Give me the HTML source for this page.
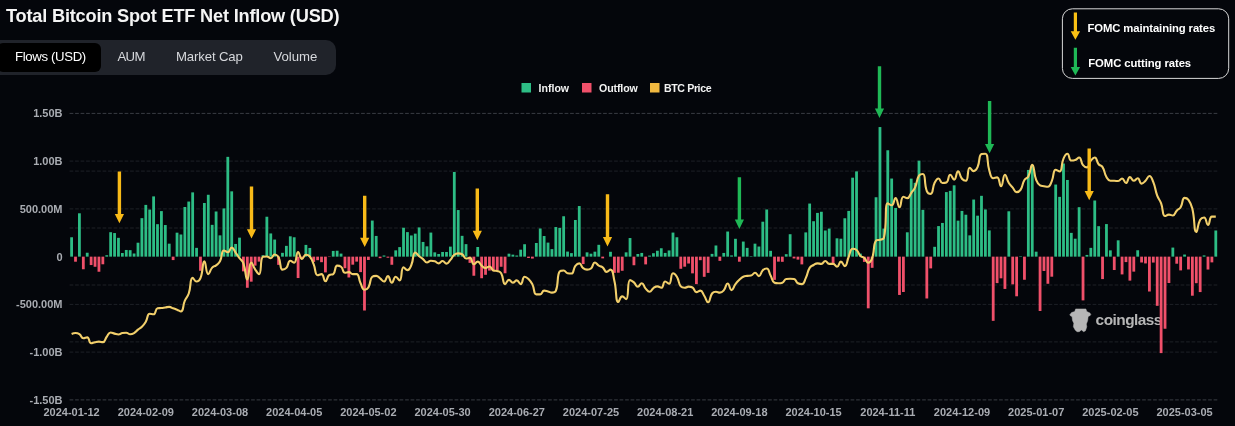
<!DOCTYPE html>
<html><head><meta charset="utf-8"><title>Total Bitcoin Spot ETF Net Inflow (USD)</title>
<style>
html,body{margin:0;padding:0;background:#04060b;}
body{width:1235px;height:426px;position:relative;overflow:hidden;font-family:"Liberation Sans",sans-serif;}
svg text{font-family:"Liberation Sans",sans-serif;}
.title,.tabs{will-change:transform;}
.title{position:absolute;left:5.6px;top:5.1px;font-size:18.2px;font-weight:700;color:#f4f4f4;letter-spacing:-0.2px;white-space:nowrap;line-height:22px;}
.tabs{position:absolute;left:-12px;top:39.6px;width:348.3px;height:35.4px;background:#20232a;border-radius:10px;}
.tab{position:absolute;top:0;height:35.4px;line-height:33.6px;font-size:13.2px;color:#d6d8dc;white-space:nowrap;}
.tab.on{left:9px;top:3px;width:104.4px;height:29px;line-height:27.6px;background:#000;border-radius:6px;color:#fff;}
.tab.on span{position:absolute;left:18px;letter-spacing:-0.35px;}
</style></head><body>
<div class="title">Total Bitcoin Spot ETF Net Inflow (USD)</div>
<div class="tabs"><div class="tab on"><span>Flows (USD)</span></div><div class="tab" style="left:129.4px;letter-spacing:-0.6px">AUM</div><div class="tab" style="left:188px;letter-spacing:-0.14px">Market Cap</div><div class="tab" style="left:285.4px">Volume</div></div>
<svg width="1235" height="426" viewBox="0 0 1235 426" style="position:absolute;left:0;top:0;will-change:transform">
<line x1="69.6" x2="1217.5" y1="113.4" y2="113.4" stroke="#3a3d44" stroke-width="1" stroke-dasharray="3.7 1.8"/>
<line x1="69.6" x2="1217.5" y1="161.1" y2="161.1" stroke="#1e2127" stroke-width="1" stroke-dasharray="3.7 1.8"/>
<line x1="69.6" x2="1217.5" y1="208.9" y2="208.9" stroke="#1e2127" stroke-width="1" stroke-dasharray="3.7 1.8"/>
<line x1="69.6" x2="1217.5" y1="304.4" y2="304.4" stroke="#1e2127" stroke-width="1" stroke-dasharray="3.7 1.8"/>
<line x1="69.6" x2="1217.5" y1="352.1" y2="352.1" stroke="#1e2127" stroke-width="1" stroke-dasharray="3.7 1.8"/>
<line x1="69.6" x2="1217.5" y1="399.9" y2="399.9" stroke="#3a3d44" stroke-width="1" stroke-dasharray="3.7 1.8"/>
<line x1="69.6" x2="1217.5" y1="228.0" y2="228.0" stroke="#1e2127" stroke-width="1" stroke-dasharray="3.7 1.8"/>
<line x1="69.6" x2="1217.5" y1="285.0" y2="285.0" stroke="#1e2127" stroke-width="1" stroke-dasharray="3.7 1.8"/>
<line x1="69.6" x2="1217.5" y1="341.9" y2="341.9" stroke="#1e2127" stroke-width="1" stroke-dasharray="3.7 1.8"/>
<line x1="69.6" x2="1217.5" y1="171.1" y2="171.1" stroke="#1e2127" stroke-width="1" stroke-dasharray="3.7 1.8"/>
<g fill="#b6b6b6"><path d="M1069.82,314.73 L1071.61,312.50 L1074.73,311.61 L1075.62,308.93 L1085.89,308.93 L1086.79,311.61 L1089.91,312.95 L1090.80,314.73 L1089.46,316.07 L1088.12,316.52 L1087.68,320.54 L1086.34,324.11 L1086.79,326.79 L1085.45,330.80 L1083.66,331.70 L1081.43,329.91 L1079.20,331.70 L1076.96,331.70 L1075.18,329.91 L1073.39,326.79 L1073.84,323.21 L1072.50,320.54 L1072.05,316.52 L1070.71,316.07Z" stroke="#b6b6b6" stroke-width="0.5" stroke-linejoin="round"/><text x="1095.6" y="325.1" font-size="15.4" font-weight="700" letter-spacing="-0.52">coinglass</text></g>
<rect x="70.20" y="237.26" width="2.8" height="19.39" fill="#2dbd85"/>
<rect x="74.11" y="256.65" width="2.8" height="5.06" fill="#f0506a"/>
<rect x="78.01" y="213.29" width="2.8" height="43.36" fill="#2dbd85"/>
<rect x="81.92" y="256.65" width="2.8" height="12.61" fill="#f0506a"/>
<rect x="85.82" y="252.73" width="2.8" height="3.92" fill="#2dbd85"/>
<rect x="89.73" y="256.65" width="2.8" height="8.40" fill="#f0506a"/>
<rect x="93.63" y="256.65" width="2.8" height="10.12" fill="#f0506a"/>
<rect x="97.54" y="256.65" width="2.8" height="15.09" fill="#f0506a"/>
<rect x="101.44" y="256.65" width="2.8" height="7.64" fill="#f0506a"/>
<rect x="105.35" y="255.22" width="2.8" height="1.43" fill="#2dbd85"/>
<rect x="109.25" y="232.20" width="2.8" height="24.45" fill="#2dbd85"/>
<rect x="113.16" y="233.06" width="2.8" height="23.59" fill="#2dbd85"/>
<rect x="117.06" y="237.84" width="2.8" height="18.81" fill="#2dbd85"/>
<rect x="120.97" y="253.02" width="2.8" height="3.63" fill="#2dbd85"/>
<rect x="124.87" y="249.96" width="2.8" height="6.69" fill="#2dbd85"/>
<rect x="128.78" y="250.16" width="2.8" height="6.49" fill="#2dbd85"/>
<rect x="132.68" y="253.50" width="2.8" height="3.15" fill="#2dbd85"/>
<rect x="136.59" y="242.71" width="2.8" height="13.94" fill="#2dbd85"/>
<rect x="140.49" y="218.16" width="2.8" height="38.49" fill="#2dbd85"/>
<rect x="144.40" y="204.89" width="2.8" height="51.76" fill="#2dbd85"/>
<rect x="148.30" y="209.57" width="2.8" height="47.08" fill="#2dbd85"/>
<rect x="152.21" y="196.39" width="2.8" height="60.26" fill="#2dbd85"/>
<rect x="156.11" y="224.18" width="2.8" height="32.47" fill="#2dbd85"/>
<rect x="160.02" y="211.10" width="2.8" height="45.55" fill="#2dbd85"/>
<rect x="163.92" y="225.04" width="2.8" height="31.61" fill="#2dbd85"/>
<rect x="167.83" y="243.66" width="2.8" height="12.99" fill="#2dbd85"/>
<rect x="171.73" y="256.65" width="2.8" height="3.44" fill="#f0506a"/>
<rect x="175.64" y="232.68" width="2.8" height="23.97" fill="#2dbd85"/>
<rect x="179.54" y="234.49" width="2.8" height="22.16" fill="#2dbd85"/>
<rect x="183.45" y="206.99" width="2.8" height="49.66" fill="#2dbd85"/>
<rect x="187.35" y="201.55" width="2.8" height="55.10" fill="#2dbd85"/>
<rect x="191.26" y="192.38" width="2.8" height="64.27" fill="#2dbd85"/>
<rect x="195.16" y="247.86" width="2.8" height="8.79" fill="#2dbd85"/>
<rect x="199.07" y="256.65" width="2.8" height="14.13" fill="#f0506a"/>
<rect x="202.97" y="202.98" width="2.8" height="53.67" fill="#2dbd85"/>
<rect x="206.88" y="194.77" width="2.8" height="61.88" fill="#2dbd85"/>
<rect x="210.78" y="224.85" width="2.8" height="31.80" fill="#2dbd85"/>
<rect x="214.69" y="211.48" width="2.8" height="45.17" fill="#2dbd85"/>
<rect x="218.59" y="235.35" width="2.8" height="21.30" fill="#2dbd85"/>
<rect x="222.50" y="208.42" width="2.8" height="48.23" fill="#2dbd85"/>
<rect x="226.40" y="156.85" width="2.8" height="99.80" fill="#2dbd85"/>
<rect x="230.31" y="191.33" width="2.8" height="65.32" fill="#2dbd85"/>
<rect x="234.21" y="243.95" width="2.8" height="12.70" fill="#2dbd85"/>
<rect x="238.12" y="237.65" width="2.8" height="19.00" fill="#2dbd85"/>
<rect x="242.02" y="256.65" width="2.8" height="14.71" fill="#f0506a"/>
<rect x="245.93" y="256.65" width="2.8" height="31.13" fill="#f0506a"/>
<rect x="249.83" y="256.65" width="2.8" height="25.02" fill="#f0506a"/>
<rect x="253.74" y="256.65" width="2.8" height="8.98" fill="#f0506a"/>
<rect x="257.64" y="256.65" width="2.8" height="4.97" fill="#f0506a"/>
<rect x="261.55" y="255.22" width="2.8" height="1.43" fill="#2dbd85"/>
<rect x="265.46" y="216.73" width="2.8" height="39.92" fill="#2dbd85"/>
<rect x="269.36" y="233.44" width="2.8" height="23.21" fill="#2dbd85"/>
<rect x="273.27" y="239.56" width="2.8" height="17.09" fill="#2dbd85"/>
<rect x="277.17" y="256.65" width="2.8" height="8.21" fill="#f0506a"/>
<rect x="281.08" y="252.83" width="2.8" height="3.82" fill="#2dbd85"/>
<rect x="284.98" y="245.86" width="2.8" height="10.79" fill="#2dbd85"/>
<rect x="288.89" y="236.31" width="2.8" height="20.34" fill="#2dbd85"/>
<rect x="292.79" y="237.26" width="2.8" height="19.39" fill="#2dbd85"/>
<rect x="296.70" y="256.65" width="2.8" height="21.39" fill="#f0506a"/>
<rect x="300.60" y="256.65" width="2.8" height="1.81" fill="#f0506a"/>
<rect x="304.51" y="244.90" width="2.8" height="11.75" fill="#2dbd85"/>
<rect x="308.41" y="247.96" width="2.8" height="8.69" fill="#2dbd85"/>
<rect x="312.32" y="256.65" width="2.8" height="5.25" fill="#f0506a"/>
<rect x="316.22" y="256.65" width="2.8" height="3.53" fill="#f0506a"/>
<rect x="320.13" y="256.65" width="2.8" height="5.54" fill="#f0506a"/>
<rect x="324.03" y="256.65" width="2.8" height="15.76" fill="#f0506a"/>
<rect x="327.94" y="256.65" width="2.8" height="0.38" fill="#f0506a"/>
<rect x="331.84" y="250.92" width="2.8" height="5.73" fill="#2dbd85"/>
<rect x="335.75" y="250.73" width="2.8" height="5.92" fill="#2dbd85"/>
<rect x="339.65" y="253.59" width="2.8" height="3.06" fill="#2dbd85"/>
<rect x="343.56" y="256.65" width="2.8" height="11.56" fill="#f0506a"/>
<rect x="347.46" y="256.65" width="2.8" height="20.82" fill="#f0506a"/>
<rect x="351.37" y="256.65" width="2.8" height="8.02" fill="#f0506a"/>
<rect x="355.27" y="256.65" width="2.8" height="4.97" fill="#f0506a"/>
<rect x="359.18" y="256.65" width="2.8" height="15.47" fill="#f0506a"/>
<rect x="363.08" y="256.65" width="2.8" height="53.86" fill="#f0506a"/>
<rect x="366.99" y="256.65" width="2.8" height="3.34" fill="#f0506a"/>
<rect x="370.89" y="220.55" width="2.8" height="36.10" fill="#2dbd85"/>
<rect x="374.80" y="235.93" width="2.8" height="20.72" fill="#2dbd85"/>
<rect x="378.70" y="256.65" width="2.8" height="1.53" fill="#f0506a"/>
<rect x="382.61" y="255.50" width="2.8" height="1.15" fill="#2dbd85"/>
<rect x="386.51" y="256.65" width="2.8" height="1.05" fill="#f0506a"/>
<rect x="390.42" y="256.65" width="2.8" height="8.12" fill="#f0506a"/>
<rect x="394.32" y="250.35" width="2.8" height="6.30" fill="#2dbd85"/>
<rect x="398.23" y="247.10" width="2.8" height="9.55" fill="#2dbd85"/>
<rect x="402.13" y="227.71" width="2.8" height="28.94" fill="#2dbd85"/>
<rect x="406.04" y="232.11" width="2.8" height="24.54" fill="#2dbd85"/>
<rect x="409.94" y="235.45" width="2.8" height="21.20" fill="#2dbd85"/>
<rect x="413.85" y="233.63" width="2.8" height="23.02" fill="#2dbd85"/>
<rect x="417.75" y="227.43" width="2.8" height="29.22" fill="#2dbd85"/>
<rect x="421.66" y="241.94" width="2.8" height="14.71" fill="#2dbd85"/>
<rect x="425.56" y="246.34" width="2.8" height="10.31" fill="#2dbd85"/>
<rect x="429.47" y="232.58" width="2.8" height="24.07" fill="#2dbd85"/>
<rect x="433.37" y="252.35" width="2.8" height="4.30" fill="#2dbd85"/>
<rect x="437.28" y="253.98" width="2.8" height="2.67" fill="#2dbd85"/>
<rect x="441.18" y="251.97" width="2.8" height="4.68" fill="#2dbd85"/>
<rect x="445.09" y="251.97" width="2.8" height="4.68" fill="#2dbd85"/>
<rect x="448.99" y="246.62" width="2.8" height="10.03" fill="#2dbd85"/>
<rect x="452.90" y="171.94" width="2.8" height="84.71" fill="#2dbd85"/>
<rect x="456.80" y="210.05" width="2.8" height="46.60" fill="#2dbd85"/>
<rect x="460.71" y="235.83" width="2.8" height="20.82" fill="#2dbd85"/>
<rect x="464.62" y="244.14" width="2.8" height="12.51" fill="#2dbd85"/>
<rect x="468.52" y="256.65" width="2.8" height="6.21" fill="#f0506a"/>
<rect x="472.43" y="256.65" width="2.8" height="19.10" fill="#f0506a"/>
<rect x="476.33" y="247.00" width="2.8" height="9.65" fill="#2dbd85"/>
<rect x="480.24" y="256.65" width="2.8" height="21.58" fill="#f0506a"/>
<rect x="484.14" y="256.65" width="2.8" height="18.14" fill="#f0506a"/>
<rect x="488.05" y="256.65" width="2.8" height="13.94" fill="#f0506a"/>
<rect x="491.95" y="256.65" width="2.8" height="14.52" fill="#f0506a"/>
<rect x="495.86" y="256.65" width="2.8" height="13.37" fill="#f0506a"/>
<rect x="499.76" y="256.65" width="2.8" height="10.12" fill="#f0506a"/>
<rect x="503.67" y="256.65" width="2.8" height="16.62" fill="#f0506a"/>
<rect x="507.57" y="253.69" width="2.8" height="2.96" fill="#2dbd85"/>
<rect x="511.48" y="254.64" width="2.8" height="2.01" fill="#2dbd85"/>
<rect x="515.38" y="255.50" width="2.8" height="1.15" fill="#2dbd85"/>
<rect x="519.29" y="249.68" width="2.8" height="6.97" fill="#2dbd85"/>
<rect x="523.19" y="244.23" width="2.8" height="12.42" fill="#2dbd85"/>
<rect x="527.10" y="256.65" width="2.8" height="1.34" fill="#f0506a"/>
<rect x="531.00" y="256.65" width="2.8" height="1.91" fill="#f0506a"/>
<rect x="534.91" y="242.99" width="2.8" height="13.66" fill="#2dbd85"/>
<rect x="538.81" y="228.48" width="2.8" height="28.17" fill="#2dbd85"/>
<rect x="542.72" y="236.02" width="2.8" height="20.63" fill="#2dbd85"/>
<rect x="546.62" y="242.61" width="2.8" height="14.04" fill="#2dbd85"/>
<rect x="550.53" y="249.11" width="2.8" height="7.54" fill="#2dbd85"/>
<rect x="554.43" y="227.04" width="2.8" height="29.61" fill="#2dbd85"/>
<rect x="558.34" y="227.90" width="2.8" height="28.75" fill="#2dbd85"/>
<rect x="562.24" y="216.25" width="2.8" height="40.40" fill="#2dbd85"/>
<rect x="566.15" y="251.59" width="2.8" height="5.06" fill="#2dbd85"/>
<rect x="570.05" y="253.12" width="2.8" height="3.53" fill="#2dbd85"/>
<rect x="573.96" y="219.98" width="2.8" height="36.67" fill="#2dbd85"/>
<rect x="577.86" y="206.03" width="2.8" height="50.62" fill="#2dbd85"/>
<rect x="581.77" y="256.65" width="2.8" height="7.45" fill="#f0506a"/>
<rect x="585.67" y="252.35" width="2.8" height="4.30" fill="#2dbd85"/>
<rect x="589.58" y="253.69" width="2.8" height="2.96" fill="#2dbd85"/>
<rect x="593.48" y="251.68" width="2.8" height="4.97" fill="#2dbd85"/>
<rect x="597.39" y="244.81" width="2.8" height="11.84" fill="#2dbd85"/>
<rect x="601.29" y="256.65" width="2.8" height="1.72" fill="#f0506a"/>
<rect x="609.10" y="251.78" width="2.8" height="4.87" fill="#2dbd85"/>
<rect x="613.01" y="256.65" width="2.8" height="16.23" fill="#f0506a"/>
<rect x="616.91" y="256.65" width="2.8" height="16.04" fill="#f0506a"/>
<rect x="620.82" y="256.65" width="2.8" height="14.13" fill="#f0506a"/>
<rect x="624.72" y="252.35" width="2.8" height="4.30" fill="#2dbd85"/>
<rect x="628.63" y="238.03" width="2.8" height="18.62" fill="#2dbd85"/>
<rect x="632.53" y="256.65" width="2.8" height="8.60" fill="#f0506a"/>
<rect x="636.44" y="253.98" width="2.8" height="2.67" fill="#2dbd85"/>
<rect x="640.34" y="252.93" width="2.8" height="3.72" fill="#2dbd85"/>
<rect x="644.25" y="256.65" width="2.8" height="7.74" fill="#f0506a"/>
<rect x="648.15" y="255.60" width="2.8" height="1.05" fill="#2dbd85"/>
<rect x="652.06" y="253.21" width="2.8" height="3.44" fill="#2dbd85"/>
<rect x="655.97" y="250.73" width="2.8" height="5.92" fill="#2dbd85"/>
<rect x="659.87" y="248.25" width="2.8" height="8.40" fill="#2dbd85"/>
<rect x="663.78" y="252.93" width="2.8" height="3.72" fill="#2dbd85"/>
<rect x="667.68" y="250.44" width="2.8" height="6.21" fill="#2dbd85"/>
<rect x="671.59" y="232.58" width="2.8" height="24.07" fill="#2dbd85"/>
<rect x="675.49" y="237.26" width="2.8" height="19.39" fill="#2dbd85"/>
<rect x="679.40" y="256.65" width="2.8" height="12.13" fill="#f0506a"/>
<rect x="683.30" y="256.65" width="2.8" height="10.03" fill="#f0506a"/>
<rect x="687.21" y="256.65" width="2.8" height="6.88" fill="#f0506a"/>
<rect x="691.11" y="256.65" width="2.8" height="16.71" fill="#f0506a"/>
<rect x="695.02" y="256.65" width="2.8" height="27.50" fill="#f0506a"/>
<rect x="698.92" y="256.65" width="2.8" height="3.53" fill="#f0506a"/>
<rect x="702.83" y="256.65" width="2.8" height="20.15" fill="#f0506a"/>
<rect x="706.73" y="256.65" width="2.8" height="16.23" fill="#f0506a"/>
<rect x="710.64" y="253.88" width="2.8" height="2.77" fill="#2dbd85"/>
<rect x="714.54" y="245.48" width="2.8" height="11.17" fill="#2dbd85"/>
<rect x="718.45" y="256.65" width="2.8" height="4.20" fill="#f0506a"/>
<rect x="722.35" y="252.93" width="2.8" height="3.72" fill="#2dbd85"/>
<rect x="726.26" y="231.53" width="2.8" height="25.12" fill="#2dbd85"/>
<rect x="730.16" y="255.41" width="2.8" height="1.24" fill="#2dbd85"/>
<rect x="734.07" y="238.79" width="2.8" height="17.86" fill="#2dbd85"/>
<rect x="737.97" y="256.65" width="2.8" height="5.06" fill="#f0506a"/>
<rect x="741.88" y="241.56" width="2.8" height="15.09" fill="#2dbd85"/>
<rect x="745.78" y="247.86" width="2.8" height="8.79" fill="#2dbd85"/>
<rect x="749.69" y="256.17" width="2.8" height="0.48" fill="#2dbd85"/>
<rect x="753.59" y="243.66" width="2.8" height="12.99" fill="#2dbd85"/>
<rect x="757.50" y="246.53" width="2.8" height="10.12" fill="#2dbd85"/>
<rect x="761.40" y="221.70" width="2.8" height="34.95" fill="#2dbd85"/>
<rect x="765.31" y="209.47" width="2.8" height="47.18" fill="#2dbd85"/>
<rect x="769.21" y="250.82" width="2.8" height="5.83" fill="#2dbd85"/>
<rect x="773.12" y="256.65" width="2.8" height="23.21" fill="#f0506a"/>
<rect x="777.02" y="256.65" width="2.8" height="4.97" fill="#f0506a"/>
<rect x="780.93" y="256.65" width="2.8" height="5.16" fill="#f0506a"/>
<rect x="784.83" y="254.17" width="2.8" height="2.48" fill="#2dbd85"/>
<rect x="788.74" y="234.21" width="2.8" height="22.44" fill="#2dbd85"/>
<rect x="792.64" y="256.65" width="2.8" height="1.81" fill="#f0506a"/>
<rect x="796.55" y="256.65" width="2.8" height="2.96" fill="#f0506a"/>
<rect x="800.45" y="256.65" width="2.8" height="7.74" fill="#f0506a"/>
<rect x="804.36" y="232.39" width="2.8" height="24.26" fill="#2dbd85"/>
<rect x="808.26" y="203.55" width="2.8" height="53.10" fill="#2dbd85"/>
<rect x="812.17" y="221.22" width="2.8" height="35.43" fill="#2dbd85"/>
<rect x="816.07" y="212.91" width="2.8" height="43.74" fill="#2dbd85"/>
<rect x="819.98" y="211.76" width="2.8" height="44.88" fill="#2dbd85"/>
<rect x="823.88" y="230.48" width="2.8" height="26.17" fill="#2dbd85"/>
<rect x="827.79" y="228.57" width="2.8" height="28.08" fill="#2dbd85"/>
<rect x="831.69" y="256.65" width="2.8" height="7.54" fill="#f0506a"/>
<rect x="835.60" y="238.31" width="2.8" height="18.34" fill="#2dbd85"/>
<rect x="839.50" y="238.70" width="2.8" height="17.95" fill="#2dbd85"/>
<rect x="843.41" y="218.26" width="2.8" height="38.39" fill="#2dbd85"/>
<rect x="847.31" y="210.91" width="2.8" height="45.74" fill="#2dbd85"/>
<rect x="851.22" y="177.67" width="2.8" height="78.98" fill="#2dbd85"/>
<rect x="855.13" y="171.37" width="2.8" height="85.28" fill="#2dbd85"/>
<rect x="859.03" y="253.59" width="2.8" height="3.06" fill="#2dbd85"/>
<rect x="862.94" y="256.65" width="2.8" height="5.25" fill="#f0506a"/>
<rect x="866.84" y="256.65" width="2.8" height="51.67" fill="#f0506a"/>
<rect x="870.75" y="256.65" width="2.8" height="11.17" fill="#f0506a"/>
<rect x="874.65" y="197.25" width="2.8" height="59.40" fill="#2dbd85"/>
<rect x="878.56" y="127.06" width="2.8" height="129.59" fill="#2dbd85"/>
<rect x="882.46" y="228.57" width="2.8" height="28.08" fill="#2dbd85"/>
<rect x="886.37" y="150.26" width="2.8" height="106.39" fill="#2dbd85"/>
<rect x="890.27" y="178.53" width="2.8" height="78.12" fill="#2dbd85"/>
<rect x="894.18" y="207.94" width="2.8" height="48.70" fill="#2dbd85"/>
<rect x="898.08" y="256.65" width="2.8" height="38.30" fill="#f0506a"/>
<rect x="901.99" y="256.65" width="2.8" height="35.34" fill="#f0506a"/>
<rect x="905.89" y="232.30" width="2.8" height="24.35" fill="#2dbd85"/>
<rect x="909.80" y="178.63" width="2.8" height="78.02" fill="#2dbd85"/>
<rect x="913.70" y="182.83" width="2.8" height="73.82" fill="#2dbd85"/>
<rect x="917.61" y="160.67" width="2.8" height="95.98" fill="#2dbd85"/>
<rect x="921.51" y="209.85" width="2.8" height="46.80" fill="#2dbd85"/>
<rect x="925.42" y="256.65" width="2.8" height="41.83" fill="#f0506a"/>
<rect x="929.32" y="256.65" width="2.8" height="11.75" fill="#f0506a"/>
<rect x="933.23" y="246.81" width="2.8" height="9.84" fill="#2dbd85"/>
<rect x="937.13" y="226.09" width="2.8" height="30.56" fill="#2dbd85"/>
<rect x="941.04" y="222.94" width="2.8" height="33.71" fill="#2dbd85"/>
<rect x="944.94" y="192.09" width="2.8" height="64.56" fill="#2dbd85"/>
<rect x="948.85" y="190.85" width="2.8" height="65.80" fill="#2dbd85"/>
<rect x="952.75" y="185.31" width="2.8" height="71.34" fill="#2dbd85"/>
<rect x="956.66" y="220.65" width="2.8" height="36.00" fill="#2dbd85"/>
<rect x="960.56" y="210.91" width="2.8" height="45.74" fill="#2dbd85"/>
<rect x="964.47" y="214.73" width="2.8" height="41.92" fill="#2dbd85"/>
<rect x="968.37" y="235.35" width="2.8" height="21.30" fill="#2dbd85"/>
<rect x="972.28" y="199.54" width="2.8" height="57.11" fill="#2dbd85"/>
<rect x="976.18" y="215.68" width="2.8" height="40.97" fill="#2dbd85"/>
<rect x="980.09" y="195.82" width="2.8" height="60.83" fill="#2dbd85"/>
<rect x="983.99" y="209.47" width="2.8" height="47.18" fill="#2dbd85"/>
<rect x="987.90" y="230.39" width="2.8" height="26.26" fill="#2dbd85"/>
<rect x="991.80" y="256.65" width="2.8" height="64.18" fill="#f0506a"/>
<rect x="995.71" y="256.65" width="2.8" height="26.45" fill="#f0506a"/>
<rect x="999.61" y="256.65" width="2.8" height="21.68" fill="#f0506a"/>
<rect x="1003.52" y="256.65" width="2.8" height="32.28" fill="#f0506a"/>
<rect x="1007.42" y="211.29" width="2.8" height="45.36" fill="#2dbd85"/>
<rect x="1011.33" y="256.65" width="2.8" height="27.70" fill="#f0506a"/>
<rect x="1015.23" y="256.65" width="2.8" height="39.63" fill="#f0506a"/>
<rect x="1019.14" y="256.17" width="2.8" height="0.48" fill="#2dbd85"/>
<rect x="1023.04" y="256.65" width="2.8" height="23.11" fill="#f0506a"/>
<rect x="1026.95" y="169.94" width="2.8" height="86.71" fill="#2dbd85"/>
<rect x="1030.85" y="164.97" width="2.8" height="91.68" fill="#2dbd85"/>
<rect x="1034.76" y="251.68" width="2.8" height="4.97" fill="#2dbd85"/>
<rect x="1038.66" y="256.65" width="2.8" height="54.34" fill="#f0506a"/>
<rect x="1042.57" y="256.65" width="2.8" height="14.33" fill="#f0506a"/>
<rect x="1046.47" y="256.65" width="2.8" height="27.12" fill="#f0506a"/>
<rect x="1050.38" y="256.65" width="2.8" height="20.05" fill="#f0506a"/>
<rect x="1054.29" y="184.55" width="2.8" height="72.10" fill="#2dbd85"/>
<rect x="1058.19" y="196.87" width="2.8" height="59.78" fill="#2dbd85"/>
<rect x="1062.10" y="163.54" width="2.8" height="93.11" fill="#2dbd85"/>
<rect x="1066.00" y="179.96" width="2.8" height="76.69" fill="#2dbd85"/>
<rect x="1069.91" y="232.87" width="2.8" height="23.78" fill="#2dbd85"/>
<rect x="1073.81" y="238.70" width="2.8" height="17.95" fill="#2dbd85"/>
<rect x="1077.72" y="207.18" width="2.8" height="49.47" fill="#2dbd85"/>
<rect x="1081.62" y="256.65" width="2.8" height="43.74" fill="#f0506a"/>
<rect x="1085.53" y="254.93" width="2.8" height="1.72" fill="#2dbd85"/>
<rect x="1089.43" y="247.86" width="2.8" height="8.79" fill="#2dbd85"/>
<rect x="1093.34" y="200.50" width="2.8" height="56.15" fill="#2dbd85"/>
<rect x="1097.24" y="226.19" width="2.8" height="30.46" fill="#2dbd85"/>
<rect x="1101.15" y="256.65" width="2.8" height="22.44" fill="#f0506a"/>
<rect x="1105.05" y="224.08" width="2.8" height="32.57" fill="#2dbd85"/>
<rect x="1108.96" y="250.35" width="2.8" height="6.30" fill="#2dbd85"/>
<rect x="1112.86" y="256.65" width="2.8" height="13.37" fill="#f0506a"/>
<rect x="1116.77" y="240.32" width="2.8" height="16.33" fill="#2dbd85"/>
<rect x="1120.67" y="256.65" width="2.8" height="17.76" fill="#f0506a"/>
<rect x="1124.58" y="256.65" width="2.8" height="5.44" fill="#f0506a"/>
<rect x="1128.48" y="256.65" width="2.8" height="23.97" fill="#f0506a"/>
<rect x="1132.39" y="256.65" width="2.8" height="14.99" fill="#f0506a"/>
<rect x="1136.29" y="250.25" width="2.8" height="6.40" fill="#2dbd85"/>
<rect x="1140.20" y="256.65" width="2.8" height="5.83" fill="#f0506a"/>
<rect x="1144.10" y="256.65" width="2.8" height="6.78" fill="#f0506a"/>
<rect x="1148.01" y="256.65" width="2.8" height="34.86" fill="#f0506a"/>
<rect x="1151.91" y="256.65" width="2.8" height="5.92" fill="#f0506a"/>
<rect x="1155.82" y="256.65" width="2.8" height="49.18" fill="#f0506a"/>
<rect x="1159.72" y="256.65" width="2.8" height="96.45" fill="#f0506a"/>
<rect x="1163.63" y="256.65" width="2.8" height="72.10" fill="#f0506a"/>
<rect x="1167.53" y="256.65" width="2.8" height="26.36" fill="#f0506a"/>
<rect x="1171.44" y="247.58" width="2.8" height="9.07" fill="#2dbd85"/>
<rect x="1175.34" y="256.65" width="2.8" height="7.07" fill="#f0506a"/>
<rect x="1179.25" y="256.65" width="2.8" height="13.75" fill="#f0506a"/>
<rect x="1183.15" y="254.55" width="2.8" height="2.10" fill="#2dbd85"/>
<rect x="1187.06" y="256.65" width="2.8" height="12.80" fill="#f0506a"/>
<rect x="1190.96" y="256.65" width="2.8" height="39.06" fill="#f0506a"/>
<rect x="1194.87" y="256.65" width="2.8" height="26.55" fill="#f0506a"/>
<rect x="1198.77" y="256.65" width="2.8" height="35.43" fill="#f0506a"/>
<rect x="1202.68" y="255.41" width="2.8" height="1.24" fill="#2dbd85"/>
<rect x="1206.58" y="256.65" width="2.8" height="12.89" fill="#f0506a"/>
<rect x="1210.49" y="256.65" width="2.8" height="5.73" fill="#f0506a"/>
<rect x="1214.39" y="230.48" width="2.8" height="26.17" fill="#2dbd85"/>
<path d="M71.60,333.92C71.60,333.92 73.57,333.07 75.51,333.07C77.47,333.07 77.76,333.12 79.41,334.20C81.67,335.69 81.04,338.19 83.32,338.19C84.95,338.19 85.82,337.34 87.22,337.34C89.72,337.34 88.64,343.31 91.13,343.31C92.54,343.31 93.05,342.61 95.03,342.17C96.95,341.75 96.98,341.61 98.94,341.61C100.89,341.61 101.39,342.17 102.84,342.17C105.29,342.17 104.65,339.36 106.75,336.77C108.56,334.52 108.36,332.50 110.65,332.50C112.26,332.50 112.59,333.13 114.56,333.64C116.49,334.13 116.55,334.49 118.46,334.49C120.45,334.49 120.36,333.37 122.37,333.07C124.26,332.78 124.38,332.78 126.27,332.78C128.28,332.78 128.20,334.20 130.18,334.20C132.11,334.20 132.37,334.07 134.08,333.07C136.27,331.79 135.96,331.27 137.99,329.65C139.87,328.14 140.22,328.51 141.89,326.80C144.12,324.53 144.15,324.43 145.80,321.68C148.06,317.89 147.00,313.71 149.70,313.71C150.90,313.71 152.22,314.28 153.61,314.28C156.12,314.28 154.99,308.82 157.51,308.30C158.90,308.02 159.47,308.23 161.42,308.02C163.38,307.80 163.37,307.73 165.32,307.45C167.27,307.16 167.33,306.88 169.23,306.88C171.23,306.88 171.18,307.59 173.13,308.30C175.09,309.01 175.11,308.95 177.04,309.72C179.01,310.52 179.89,311.43 180.94,311.43C183.79,311.43 182.56,305.87 184.85,300.62C186.46,296.91 187.45,297.31 188.75,293.50C191.35,285.92 189.73,277.84 192.66,277.84C193.63,277.84 194.58,281.54 196.56,281.54C198.48,281.54 199.57,280.47 200.47,278.13C203.47,270.36 202.18,261.33 204.37,261.33C206.08,261.33 205.79,274.14 208.28,274.14C209.70,274.14 209.73,270.37 212.18,267.60C213.64,265.95 214.34,266.72 216.09,265.32C218.25,263.59 218.72,263.75 219.99,261.33C222.62,256.35 221.05,250.52 223.90,250.52C224.95,250.52 226.18,252.23 227.80,252.23C230.09,252.23 229.79,247.67 231.71,247.67C233.70,247.67 233.76,250.01 235.61,252.51C237.67,255.28 237.50,255.41 239.52,258.20C241.40,260.81 242.34,260.35 243.42,263.33C246.24,271.03 245.42,279.55 247.33,279.55C249.33,279.55 248.54,262.47 251.23,262.47C252.44,262.47 252.96,266.04 255.14,269.30C256.86,271.88 258.03,274.14 259.04,274.14C261.94,274.14 259.75,258.07 262.95,256.78C263.65,256.50 264.99,256.50 266.86,256.50C268.89,256.50 269.03,258.20 270.76,258.20C272.94,258.20 272.61,254.50 274.67,254.50C276.51,254.50 277.50,255.29 278.57,257.35C281.41,262.83 279.54,269.59 282.48,269.59C283.45,269.59 285.04,269.40 286.38,267.88C288.94,264.99 287.75,260.76 290.29,260.76C291.66,260.76 293.11,262.76 294.19,262.76C297.02,262.76 295.81,251.94 298.10,251.94C299.71,251.94 299.72,259.06 302.00,259.06C303.63,259.06 303.66,254.79 305.91,254.79C307.56,254.79 308.54,254.93 309.81,256.50C312.45,259.76 312.02,260.37 313.72,264.47C315.92,269.77 314.74,275.28 317.62,275.28C318.64,275.28 320.22,274.14 321.53,274.14C324.13,274.14 323.39,281.26 325.43,281.26C327.29,281.26 326.80,276.57 329.34,275.00C330.71,274.14 332.08,275.00 333.24,274.14C335.98,272.14 334.42,265.60 337.15,265.60C338.33,265.60 339.63,265.60 341.05,266.74C343.54,268.74 342.44,272.72 344.96,272.72C346.35,272.72 347.01,272.15 348.86,272.15C350.92,272.15 350.70,274.14 352.77,274.14C354.61,274.14 355.57,274.14 356.67,274.14C359.47,274.14 358.37,278.83 360.58,283.25C362.28,286.66 362.03,289.80 364.48,289.80C365.94,289.80 367.29,289.37 368.39,287.52C371.19,282.82 369.39,279.16 372.29,276.71C373.30,275.85 374.40,275.85 376.20,275.85C378.30,275.85 378.22,277.04 380.10,278.41C382.12,279.89 382.33,281.54 384.01,281.54C386.24,281.54 386.09,276.14 387.91,276.14C390.00,276.14 389.80,282.68 391.82,282.68C393.71,282.68 393.50,276.71 395.72,276.71C397.40,276.71 398.53,280.41 399.63,280.41C402.43,280.41 400.65,267.31 403.53,267.31C404.55,267.31 405.76,270.16 407.44,270.16C409.67,270.16 410.06,267.94 411.34,265.03C413.96,259.12 412.48,252.51 415.25,252.51C416.38,252.51 417.10,254.49 419.15,256.21C421.00,257.76 421.18,257.55 423.06,259.06C425.08,260.68 424.82,262.47 426.96,262.47C428.73,262.47 428.84,260.76 430.87,260.76C432.75,260.76 432.92,260.76 434.77,261.33C436.83,261.97 436.76,263.33 438.68,263.33C440.66,263.33 440.66,261.05 442.58,261.05C444.57,261.05 444.67,263.61 446.49,263.61C448.58,263.61 448.62,261.92 450.39,259.91C452.52,257.51 451.93,256.78 454.30,254.79C455.83,253.50 456.21,253.36 458.20,253.36C460.12,253.36 460.51,253.36 462.11,254.22C464.42,255.45 463.69,258.49 466.02,258.49C467.60,258.49 468.56,257.92 469.92,257.92C472.46,257.92 471.43,264.18 473.83,264.18C475.34,264.18 475.95,261.62 477.73,261.62C479.86,261.62 479.48,263.87 481.64,265.60C483.38,267.01 483.51,267.88 485.54,267.88C487.41,267.88 487.78,266.46 489.45,266.46C491.68,266.46 491.06,269.64 493.35,270.44C494.97,271.01 495.44,270.44 497.26,271.01C499.34,271.66 500.06,271.44 501.16,273.29C503.96,277.99 502.47,284.11 505.07,284.11C506.37,284.11 506.84,279.84 508.97,279.84C510.75,279.84 510.86,282.68 512.88,282.68C514.76,282.68 515.00,280.41 516.78,280.41C518.90,280.41 519.16,284.11 520.69,284.11C523.06,284.11 522.06,276.71 524.59,276.71C525.96,276.71 526.92,277.43 528.50,278.98C530.82,281.27 530.90,281.44 532.40,284.39C534.81,289.12 533.45,294.35 536.31,294.35C537.35,294.35 538.57,294.35 540.21,294.35C542.47,294.35 541.88,290.65 544.12,290.65C545.78,290.65 546.09,291.01 548.02,291.51C549.99,292.01 550.02,292.65 551.93,292.65C553.93,292.65 555.15,292.65 555.83,290.94C559.05,282.91 556.48,275.57 559.74,271.30C560.39,270.44 561.87,270.44 563.64,270.44C565.78,270.44 565.39,272.94 567.55,273.29C569.30,273.57 570.23,273.57 571.45,273.57C574.14,273.57 572.83,269.21 575.36,265.89C576.73,264.09 577.59,263.33 579.26,263.33C581.49,263.33 580.83,266.29 583.17,268.17C584.73,269.42 585.10,269.59 587.07,269.59C589.00,269.59 589.56,269.59 590.98,268.45C593.47,266.45 592.59,262.47 594.88,262.47C596.49,262.47 596.68,264.30 598.79,265.60C600.58,266.72 601.07,266.01 602.69,267.31C604.98,269.14 604.37,271.87 606.60,271.87C608.28,271.87 609.44,269.59 610.50,269.59C613.34,269.59 613.00,275.14 614.41,280.97C616.91,291.36 615.36,302.04 618.31,302.04C619.27,302.04 619.92,296.35 622.22,296.35C623.83,296.35 625.35,299.19 626.12,299.19C629.25,299.19 626.86,280.12 630.03,280.12C630.77,280.12 632.22,280.96 633.93,282.40C636.13,284.24 635.78,286.67 637.84,286.67C639.69,286.67 640.04,283.25 641.74,283.25C643.94,283.25 643.42,286.22 645.65,288.66C647.32,290.49 647.67,291.79 649.55,291.79C651.58,291.79 651.28,289.60 653.46,288.09C655.19,286.90 655.39,286.38 657.37,286.38C659.29,286.38 659.86,287.81 661.27,287.81C663.77,287.81 662.75,281.54 665.18,281.54C666.66,281.54 667.96,283.82 669.08,283.82C671.86,283.82 670.31,273.29 672.99,273.29C674.22,273.29 675.59,274.53 676.89,276.71C679.50,281.08 678.00,282.81 680.80,286.38C681.91,287.81 682.73,287.81 684.70,287.81C686.63,287.81 686.64,286.67 688.61,286.67C690.54,286.67 690.95,286.67 692.51,287.52C694.85,288.80 694.11,292.08 696.42,292.08C698.01,292.08 698.79,290.65 700.32,290.65C702.69,290.65 702.44,293.10 704.23,295.78C706.34,298.94 706.41,302.32 708.13,302.32C710.31,302.32 709.33,297.15 712.04,293.50C713.23,291.89 713.93,291.79 715.94,291.79C717.83,291.79 718.01,292.65 719.85,292.65C721.92,292.65 722.33,292.03 723.75,290.37C726.23,287.48 725.67,283.54 727.66,283.54C729.58,283.54 729.55,290.08 731.56,290.08C733.45,290.08 733.31,286.94 735.47,284.11C737.22,281.81 737.28,281.82 739.37,279.84C741.18,278.12 741.11,277.77 743.28,276.71C745.01,275.85 745.21,276.14 747.18,275.85C749.11,275.57 749.34,275.85 751.09,275.57C753.24,275.22 753.11,272.72 754.99,272.72C757.01,272.72 757.25,276.14 758.90,276.14C761.16,276.14 760.36,272.56 762.80,270.16C764.26,268.72 765.36,268.45 766.71,268.45C769.27,268.45 768.66,272.01 770.61,275.57C772.57,279.12 771.89,281.51 774.52,282.68C775.80,283.25 776.47,283.25 778.42,283.25C780.38,283.25 780.68,283.25 782.33,282.68C784.58,281.91 783.97,279.37 786.23,278.98C787.88,278.70 788.19,278.70 790.14,278.70C792.09,278.70 792.47,278.70 794.04,278.98C796.37,279.40 795.64,282.02 797.95,283.25C799.54,284.11 800.45,284.11 801.85,284.11C804.36,284.11 804.22,281.33 805.76,278.13C808.12,273.22 806.95,272.43 809.66,267.88C810.86,265.88 811.49,266.24 813.57,265.03C815.40,263.97 815.45,263.33 817.47,263.33C819.35,263.33 819.62,263.90 821.38,263.90C823.53,263.90 823.33,261.05 825.28,261.05C827.24,261.05 827.03,263.90 829.19,263.90C830.93,263.90 831.35,263.90 833.09,263.90C835.25,263.90 835.33,266.74 837.00,266.74C839.23,266.74 838.88,261.62 840.90,261.62C842.79,261.62 843.36,266.17 844.81,266.17C847.27,266.17 846.63,261.42 848.71,256.78C850.53,252.73 849.94,248.81 852.62,248.81C853.85,248.81 855.11,248.81 856.53,249.95C859.01,251.95 858.01,253.46 860.43,255.93C861.92,257.44 862.72,256.51 864.34,257.92C866.63,259.92 866.25,262.76 868.24,262.76C870.16,262.76 871.17,260.97 872.15,258.20C875.08,249.87 872.85,244.42 876.05,240.55C876.76,239.70 878.07,240.32 879.96,239.70C881.97,239.04 883.44,239.70 883.86,237.99C887.34,223.99 884.30,203.27 887.77,203.27C888.20,203.27 890.30,205.26 891.67,205.26C894.21,205.26 893.82,198.14 895.58,198.14C897.72,198.14 897.65,207.25 899.48,207.25C901.56,207.25 900.54,196.72 903.39,196.72C904.44,196.72 905.76,198.14 907.29,198.14C909.67,198.14 909.31,195.63 911.20,193.02C913.22,190.22 913.70,190.45 915.10,187.33C917.60,181.76 916.11,180.59 919.01,175.65C920.01,173.95 922.15,173.95 922.91,173.95C926.05,173.95 923.76,183.22 926.82,191.03C927.66,193.18 929.59,193.87 930.72,193.87C933.49,193.87 932.01,187.92 934.63,182.77C935.91,180.24 936.61,178.50 938.53,178.50C940.52,178.50 940.08,183.06 942.44,183.06C943.99,183.06 945.12,183.06 946.34,182.49C949.02,181.24 947.98,174.80 950.25,174.80C951.88,174.80 952.57,179.64 954.15,179.64C956.48,179.64 956.02,171.38 958.06,171.38C959.93,171.38 959.40,175.70 961.96,178.79C963.31,180.40 964.92,180.78 965.87,180.78C968.82,180.78 966.94,167.68 969.77,167.68C970.85,167.68 971.80,171.10 973.68,171.10C975.70,171.10 976.45,169.59 977.58,167.11C980.36,161.05 978.45,155.01 981.49,154.02C982.36,153.74 984.67,153.74 985.39,153.74C988.58,153.74 986.70,162.37 989.30,170.53C990.60,174.61 990.54,178.22 993.20,178.22C994.44,178.22 995.96,177.36 997.11,177.36C999.87,177.36 999.28,186.19 1001.01,186.19C1003.18,186.19 1002.70,174.80 1004.92,174.80C1006.60,174.80 1006.47,179.19 1008.82,183.06C1010.37,185.59 1010.78,185.33 1012.73,187.61C1014.68,189.89 1014.41,192.16 1016.63,192.16C1018.31,192.16 1019.38,191.70 1020.54,189.89C1023.28,185.58 1021.81,184.43 1024.44,179.92C1025.72,177.74 1027.19,178.75 1028.35,176.51C1031.10,171.20 1030.53,164.84 1032.25,164.84C1034.44,164.84 1033.43,172.75 1036.16,179.92C1037.33,183.00 1037.62,183.91 1040.06,185.33C1041.53,186.19 1042.00,185.83 1043.97,186.19C1045.91,186.54 1046.45,186.76 1047.88,186.76C1050.36,186.76 1050.36,184.18 1051.78,181.06C1054.26,175.64 1052.80,169.68 1055.69,169.68C1056.71,169.68 1058.65,171.38 1059.59,171.38C1062.55,171.38 1060.83,164.60 1063.50,158.58C1064.73,155.78 1065.68,153.74 1067.40,153.74C1069.58,153.74 1068.70,160.57 1071.31,160.57C1072.61,160.57 1073.42,160.57 1075.21,160.00C1077.33,159.32 1077.74,157.44 1079.12,157.44C1081.65,157.44 1080.46,161.85 1083.02,165.12C1084.36,166.84 1085.50,167.40 1086.93,167.40C1089.41,167.40 1088.44,163.61 1090.83,160.57C1092.35,158.63 1093.22,157.44 1094.74,157.44C1097.12,157.44 1096.22,161.27 1098.64,164.27C1100.13,166.11 1101.33,165.12 1102.55,167.11C1105.24,171.53 1103.85,172.53 1106.45,177.08C1107.76,179.36 1108.09,180.78 1110.36,180.78C1112.00,180.78 1112.31,180.78 1114.26,180.78C1116.22,180.78 1116.39,181.06 1118.17,181.06C1120.29,181.06 1120.36,178.50 1122.07,178.50C1124.27,178.50 1124.19,183.06 1125.98,183.06C1128.10,183.06 1127.66,177.08 1129.88,177.08C1131.56,177.08 1131.70,180.78 1133.79,180.78C1135.60,180.78 1136.08,178.22 1137.69,178.22C1139.99,178.22 1139.33,183.62 1141.60,183.62C1143.24,183.62 1143.79,182.46 1145.50,180.78C1147.70,178.62 1147.62,175.94 1149.41,175.94C1151.53,175.94 1151.96,178.80 1153.31,182.20C1155.87,188.62 1154.81,189.07 1157.22,195.58C1158.71,199.60 1159.59,199.25 1161.12,203.27C1163.50,209.50 1162.05,216.07 1165.03,216.07C1165.95,216.07 1166.94,214.65 1168.93,214.65C1170.85,214.65 1171.31,215.51 1172.84,215.51C1175.22,215.51 1174.61,212.92 1176.74,210.67C1178.52,208.79 1179.33,209.41 1180.65,207.25C1183.23,203.01 1181.82,197.86 1184.55,197.86C1185.73,197.86 1187.24,198.16 1188.46,199.85C1191.14,203.57 1191.23,204.02 1192.36,208.67C1195.14,220.10 1193.74,232.02 1196.27,232.02C1197.64,232.02 1197.29,225.14 1200.17,219.78C1201.19,217.89 1202.71,217.50 1204.08,217.50C1206.61,217.50 1206.12,224.90 1207.98,224.90C1210.02,224.90 1209.15,216.64 1211.89,216.64C1213.06,216.64 1215.79,216.64 1215.79,216.64" fill="none" stroke="#f2cf6b" stroke-width="2.1" stroke-linejoin="round" stroke-linecap="butt"/>
<text x="62.5" y="117.4" text-anchor="end" font-size="11" fill="#a9acb2" font-weight="700">1.50B</text>
<text x="62.5" y="165.1" text-anchor="end" font-size="11" fill="#a9acb2" font-weight="700">1.00B</text>
<text x="62.5" y="212.9" text-anchor="end" font-size="11" fill="#a9acb2" font-weight="700">500.00M</text>
<text x="62.5" y="260.6" text-anchor="end" font-size="11" fill="#a9acb2" font-weight="700">0</text>
<text x="62.5" y="308.4" text-anchor="end" font-size="11" fill="#a9acb2" font-weight="700">-500.00M</text>
<text x="62.5" y="356.1" text-anchor="end" font-size="11" fill="#a9acb2" font-weight="700">-1.00B</text>
<text x="62.5" y="403.9" text-anchor="end" font-size="11" fill="#a9acb2" font-weight="700">-1.50B</text>
<text x="71.6" y="415.6" text-anchor="middle" font-size="11" fill="#a9acb2" font-weight="700">2024-01-12</text>
<text x="145.8" y="415.6" text-anchor="middle" font-size="11" fill="#a9acb2" font-weight="700">2024-02-09</text>
<text x="220.0" y="415.6" text-anchor="middle" font-size="11" fill="#a9acb2" font-weight="700">2024-03-08</text>
<text x="294.2" y="415.6" text-anchor="middle" font-size="11" fill="#a9acb2" font-weight="700">2024-04-05</text>
<text x="368.4" y="415.6" text-anchor="middle" font-size="11" fill="#a9acb2" font-weight="700">2024-05-02</text>
<text x="442.6" y="415.6" text-anchor="middle" font-size="11" fill="#a9acb2" font-weight="700">2024-05-30</text>
<text x="516.8" y="415.6" text-anchor="middle" font-size="11" fill="#a9acb2" font-weight="700">2024-06-27</text>
<text x="591.0" y="415.6" text-anchor="middle" font-size="11" fill="#a9acb2" font-weight="700">2024-07-25</text>
<text x="665.2" y="415.6" text-anchor="middle" font-size="11" fill="#a9acb2" font-weight="700">2024-08-21</text>
<text x="739.4" y="415.6" text-anchor="middle" font-size="11" fill="#a9acb2" font-weight="700">2024-09-18</text>
<text x="813.6" y="415.6" text-anchor="middle" font-size="11" fill="#a9acb2" font-weight="700">2024-10-15</text>
<text x="887.8" y="415.6" text-anchor="middle" font-size="11" fill="#a9acb2" font-weight="700">2024-11-11</text>
<text x="962.0" y="415.6" text-anchor="middle" font-size="11" fill="#a9acb2" font-weight="700">2024-12-09</text>
<text x="1036.2" y="415.6" text-anchor="middle" font-size="11" fill="#a9acb2" font-weight="700">2025-01-07</text>
<text x="1110.4" y="415.6" text-anchor="middle" font-size="11" fill="#a9acb2" font-weight="700">2025-02-05</text>
<text x="1184.6" y="415.6" text-anchor="middle" font-size="11" fill="#a9acb2" font-weight="700">2025-03-05</text>
<path d="M117.70,171.50h3.4V213.90h2.90L119.40,223.30L114.80,213.90h2.90Z" fill="#f8ba18"/>
<path d="M249.80,186.60h3.4V229.20h2.90L251.50,238.60L246.90,229.20h2.90Z" fill="#f8ba18"/>
<path d="M363.00,195.80h3.4V237.70h2.90L364.70,247.10L360.10,237.70h2.90Z" fill="#f8ba18"/>
<path d="M475.60,188.50h3.4V230.80h2.90L477.30,240.20L472.70,230.80h2.90Z" fill="#f8ba18"/>
<path d="M605.80,194.30h3.4V237.00h2.90L607.50,246.40L602.90,237.00h2.90Z" fill="#f8ba18"/>
<path d="M1087.50,148.50h3.4V190.90h2.90L1089.20,200.30L1084.60,190.90h2.90Z" fill="#f8ba18"/>
<path d="M877.80,66.30h3.4V108.60h2.90L879.50,118.00L874.90,108.60h2.90Z" fill="#1fb856"/>
<path d="M987.90,101.00h3.4V143.90h2.90L989.60,153.30L985.00,143.90h2.90Z" fill="#1fb856"/>
<path d="M737.70,177.30h3.4V219.60h2.90L739.40,229.00L734.80,219.60h2.90Z" fill="#1fb856"/>
<path d="M1073.80,12.40h3.2V31.20h3.10L1075.40,39.80L1070.70,31.20h3.10Z" fill="#f9c014"/>
<path d="M1073.80,47.80h3.2V67.00h3.10L1075.40,75.60L1070.70,67.00h3.10Z" fill="#1fb856"/>
<rect x="1062.4" y="8.8" width="166.3" height="69.6" rx="10" ry="10" fill="none" stroke="#d8d8d8" stroke-width="1"/>
<text x="1087.4" y="32.2" font-size="11.3" font-weight="700" fill="#fff" letter-spacing="-0.1">FOMC maintaining rates</text>
<text x="1088.3" y="67" font-size="11.3" font-weight="700" fill="#fff" letter-spacing="-0.08">FOMC cutting rates</text>
<rect x="521.5" y="83" width="9.5" height="9.5" fill="#2dbd85"/>
<text x="538.5" y="91.6" font-size="10.6" font-weight="700" fill="#f2f2f2">Inflow</text>
<rect x="582" y="83" width="9.5" height="9.5" fill="#f0506a"/>
<text x="599" y="91.6" font-size="10.6" font-weight="700" fill="#f2f2f2" letter-spacing="-0.1">Outflow</text>
<rect x="650" y="83" width="9.5" height="9.5" fill="#f0b840"/>
<text x="664" y="91.6" font-size="10.6" font-weight="700" fill="#f2f2f2" letter-spacing="-0.38">BTC Price</text>
</svg>
</body></html>
